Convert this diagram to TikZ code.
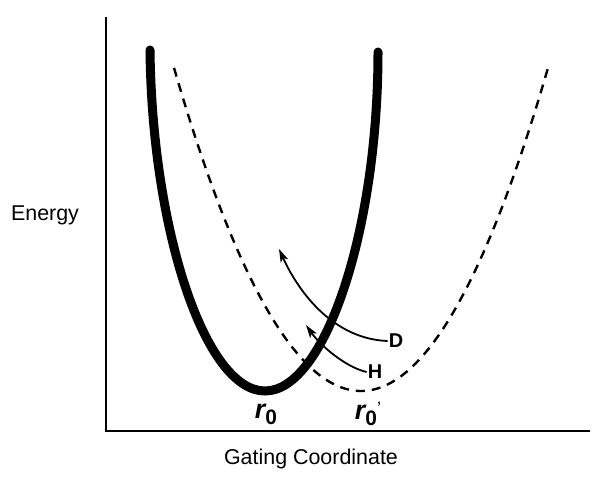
\documentclass[tikz,border=0pt]{standalone}
\usepackage{fontspec}
\setmainfont{Liberation Sans}
\usetikzlibrary{positioning,arrows.meta,calc}

\tikzset{
  lbl/.style={font=\fontsize{21.5}{24}\selectfont},
  branch/.style={font=\fontsize{20}{22}\selectfont\bfseries,inner sep=1pt},
  minlbl/.style={font=\fontsize{27}{30}\selectfont\bfseries\itshape,inner sep=1pt},
  path arrow/.style={line width=1.8bp,-{Stealth[length=13bp,width=8bp,inset=3bp]}}
}
\newcommand{\subzero}{\raisebox{-6bp}{\upshape\fontsize{21}{21}\selectfont 0}}

\begin{document}
\begin{tikzpicture}[x=1bp,y=-1bp]
\useasboundingbox (0,0) rectangle (602,480);
% ---- axes ----
\coordinate (orig) at (106,431);
\coordinate (ytop) at (106,17);
\coordinate (xend) at (590,431);
\draw[line width=1.5bp] (ytop) -- (orig) -- (xend);
\node[lbl] (ylab) at (45,215) {Energy};
\node[lbl] (xlab) at (311,459) {Gating Coordinate};
% ---- shifted well (dashed) ----
\draw[line width=2.4bp,dash pattern=on 9bp off 7bp] plot[domain=174:548,samples=80] (\x,{391-0.924*((\x-361)/10)^2});
% ---- ground well (solid) ----
\draw[line width=9bp,line cap=round] (150,50) .. controls (152,230) and (205,391) .. (265,391)
  .. controls (325,391) and (378,230) .. (378,52);
% ---- minima ----
\node[minlbl] (rzero) at (266,414) {r\subzero};
\node[minlbl] (rshift) at (368,414) {r\subzero\raisebox{5bp}{\upshape\mdseries\fontsize{18}{18}\selectfont '}};
% ---- D and H pathways ----
\node[branch] (lblD) at (396,341) {D};
\node[branch] (lblH) at (375,372) {H};
\coordinate (tipD) at (279,249);
\coordinate (tipH) at (306,325);
\draw[path arrow] (lblD.west) .. controls (335,339) and (300,295) .. (tipD);
\draw[path arrow] (lblH.west) .. controls (345,367) and (320,345) .. (tipH);
\end{tikzpicture}
\end{document}
